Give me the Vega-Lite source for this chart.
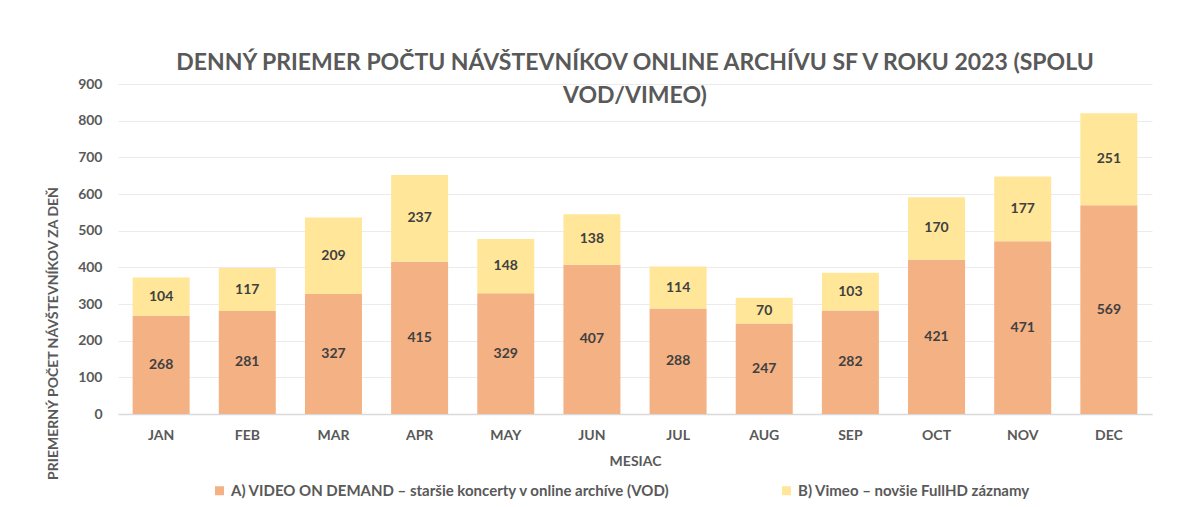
{
  "$schema": "https://vega.github.io/schema/vega-lite/v6.json",
  "width": 1034,
  "height": 330,
  "autosize": {"type": "none"},
  "padding": {"left": 118, "top": 84, "right": 26, "bottom": 93},
  "background": "white",
  "title": {
    "text": ["DENNÝ PRIEMER POČTU NÁVŠTEVNÍKOV ONLINE ARCHÍVU SF V ROKU 2023 (SPOLU", "VOD/VIMEO)"],
    "font": "Lato",
    "fontSize": 23,
    "fontWeight": "bold",
    "color": "#595959",
    "anchor": "middle",
    "offset": -31,
    "lineHeight": 33
  },
  "data": {
    "values": [
      {"month": "JAN", "series": "A) VIDEO ON DEMAND – staršie koncerty v online archíve (VOD)", "value": 268},
      {"month": "FEB", "series": "A) VIDEO ON DEMAND – staršie koncerty v online archíve (VOD)", "value": 281},
      {"month": "MAR", "series": "A) VIDEO ON DEMAND – staršie koncerty v online archíve (VOD)", "value": 327},
      {"month": "APR", "series": "A) VIDEO ON DEMAND – staršie koncerty v online archíve (VOD)", "value": 415},
      {"month": "MAY", "series": "A) VIDEO ON DEMAND – staršie koncerty v online archíve (VOD)", "value": 329},
      {"month": "JUN", "series": "A) VIDEO ON DEMAND – staršie koncerty v online archíve (VOD)", "value": 407},
      {"month": "JUL", "series": "A) VIDEO ON DEMAND – staršie koncerty v online archíve (VOD)", "value": 288},
      {"month": "AUG", "series": "A) VIDEO ON DEMAND – staršie koncerty v online archíve (VOD)", "value": 247},
      {"month": "SEP", "series": "A) VIDEO ON DEMAND – staršie koncerty v online archíve (VOD)", "value": 282},
      {"month": "OCT", "series": "A) VIDEO ON DEMAND – staršie koncerty v online archíve (VOD)", "value": 421},
      {"month": "NOV", "series": "A) VIDEO ON DEMAND – staršie koncerty v online archíve (VOD)", "value": 471},
      {"month": "DEC", "series": "A) VIDEO ON DEMAND – staršie koncerty v online archíve (VOD)", "value": 569},
      {"month": "JAN", "series": "B) Vimeo – novšie FullHD záznamy", "value": 104},
      {"month": "FEB", "series": "B) Vimeo – novšie FullHD záznamy", "value": 117},
      {"month": "MAR", "series": "B) Vimeo – novšie FullHD záznamy", "value": 209},
      {"month": "APR", "series": "B) Vimeo – novšie FullHD záznamy", "value": 237},
      {"month": "MAY", "series": "B) Vimeo – novšie FullHD záznamy", "value": 148},
      {"month": "JUN", "series": "B) Vimeo – novšie FullHD záznamy", "value": 138},
      {"month": "JUL", "series": "B) Vimeo – novšie FullHD záznamy", "value": 114},
      {"month": "AUG", "series": "B) Vimeo – novšie FullHD záznamy", "value": 70},
      {"month": "SEP", "series": "B) Vimeo – novšie FullHD záznamy", "value": 103},
      {"month": "OCT", "series": "B) Vimeo – novšie FullHD záznamy", "value": 170},
      {"month": "NOV", "series": "B) Vimeo – novšie FullHD záznamy", "value": 177},
      {"month": "DEC", "series": "B) Vimeo – novšie FullHD záznamy", "value": 251}
    ]
  },
  "encoding": {
    "x": {
      "field": "month",
      "type": "nominal",
      "sort": ["JAN", "FEB", "MAR", "APR", "MAY", "JUN", "JUL", "AUG", "SEP", "OCT", "NOV", "DEC"],
      "scale": {"paddingInner": 0.3385, "paddingOuter": 0.17},
      "axis": {
        "title": "MESIAC",
        "labelAngle": 0,
        "labelFont": "Lato",
        "labelFontSize": 14,
        "labelFontWeight": "bold",
        "labelColor": "#595959",
        "labelPadding": 14,
        "ticks": false,
        "domain": true,
        "domainColor": "#D9D9D9",
        "domainWidth": 1.5,
        "titleFont": "Lato",
        "titleFontSize": 14,
        "titleFontWeight": "bold",
        "titleColor": "#595959",
        "titlePadding": 12
      }
    }
  },
  "layer": [
    {
      "mark": {"type": "bar"},
      "encoding": {
        "y": {
          "field": "value",
          "type": "quantitative",
          "aggregate": "sum",
          "stack": "zero",
          "scale": {"domain": [0, 900], "nice": false},
          "axis": {
            "title": "PRIEMERNÝ POČET NÁVŠTEVNÍKOV ZA DEŇ",
            "values": [0, 100, 200, 300, 400, 500, 600, 700, 800, 900],
            "grid": true,
            "gridColor": "#EBEBEB",
            "gridWidth": 1,
            "domain": false,
            "ticks": false,
            "labelFont": "Lato",
            "labelFontSize": 14,
            "labelFontWeight": "bold",
            "labelColor": "#595959",
            "labelPadding": 16,
            "titleFont": "Lato",
            "titleFontSize": 14,
            "titleFontWeight": "bold",
            "titleColor": "#595959",
            "titleAngle": -90,
            "titleX": -65,
            "titleY": 249,
            "titleAlign": "center",
            "titleBaseline": "middle"
          }
        },
        "color": {
          "field": "series",
          "type": "nominal",
          "scale": {
            "domain": ["A) VIDEO ON DEMAND – staršie koncerty v online archíve (VOD)", "B) Vimeo – novšie FullHD záznamy"],
            "range": ["#F4B183", "#FFE699"]
          },
          "legend": {
            "title": null,
            "orient": "none",
            "legendX": 94,
            "legendY": 399,
            "direction": "horizontal",
            "symbolType": "square",
            "symbolSize": 81,
            "symbolStrokeWidth": 0,
            "labelFont": "Lato",
            "labelFontSize": 15,
            "labelFontWeight": "bold",
            "labelColor": "#595959",
            "labelLimit": 0,
            "columnPadding": 108,
            "labelOffset": 4
          }
        },
        "order": {"field": "series", "sort": "ascending"}
      }
    },
    {
      "transform": [
        {"stack": "value", "groupby": ["month"], "sort": [{"field": "series", "order": "ascending"}], "as": ["v0", "v1"]},
        {"fold": ["v0", "v1"], "as": ["edge", "pos"]},
        {"aggregate": [{"op": "mean", "field": "pos", "as": "mid"}, {"op": "max", "field": "value", "as": "label"}], "groupby": ["month", "series"]}
      ],
      "mark": {"type": "text", "font": "Lato", "fontSize": 14, "fontWeight": "bold", "color": "#404040", "align": "center", "baseline": "middle"},
      "encoding": {
        "y": {
          "field": "mid",
          "type": "quantitative",
          "scale": {"domain": [0, 900], "nice": false},
          "axis": {
            "title": "PRIEMERNÝ POČET NÁVŠTEVNÍKOV ZA DEŇ",
            "values": [0, 100, 200, 300, 400, 500, 600, 700, 800, 900],
            "grid": true,
            "gridColor": "#EBEBEB",
            "gridWidth": 1,
            "domain": false,
            "ticks": false,
            "labelFont": "Lato",
            "labelFontSize": 14,
            "labelFontWeight": "bold",
            "labelColor": "#595959",
            "labelPadding": 16,
            "titleFont": "Lato",
            "titleFontSize": 14,
            "titleFontWeight": "bold",
            "titleColor": "#595959",
            "titleAngle": -90,
            "titleX": -65,
            "titleY": 249,
            "titleAlign": "center",
            "titleBaseline": "middle"
          }
        },
        "text": {"field": "label", "type": "quantitative"}
      }
    }
  ],
  "config": {
    "view": {"stroke": null}
  }
}
